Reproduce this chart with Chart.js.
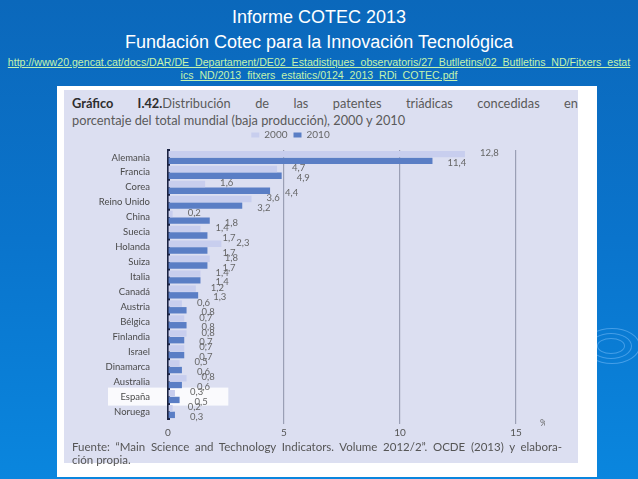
<!DOCTYPE html>
<html>
<head>
<meta charset="utf-8">
<script src="https://cdn.jsdelivr.net/npm/chart.js@4.4.1/dist/chart.umd.min.js"></script>
<style>
  html, body { margin: 0; padding: 0; }
  body {
    width: 638px; height: 479px; overflow: hidden; position: relative;
    background: linear-gradient(180deg, #0b68bb 0%, #0a74cc 50%, #0a86de 100%);
    font-family: "Liberation Sans", Arial, sans-serif;
  }
  .titulo { position: absolute; left: 0; width: 638px; text-align: center; color: #fff; font-size: 18px; }
  .enlace {
    position: absolute; left: 0; width: 638px; text-align: center;
    color: #c4f3ae; font-size: 10.6px; text-decoration: underline; line-height: 13px; white-space: nowrap;
  }
  .marco { position: absolute; left: 57px; top: 86px; width: 540px; height: 391px; background: #fff; }
  .panel { position: absolute; left: 64px; top: 90px; width: 514px; height: 373px; background: #dcdff1; }
  .cabecera {
    position: absolute; left: 72px; width: 506px; font-family: Lato, "Open Sans", sans-serif;
    font-size: 12.8px; color: #5a5a5a; white-space: nowrap;
  }
  .cabecera b { color: #2e2e2e; }
  .fuente {
    position: absolute; left: 72px; width: 490px; font-family: Lato, "Open Sans", sans-serif;
    font-size: 11.5px; color: #555; line-height: 13px; white-space: nowrap;
  }
  .onda { position: absolute; border: 1px solid rgba(140, 200, 255, 0.45); border-radius: 50%; }
  canvas { position: absolute; left: 65px; top: 124px; }
</style>
</head>
<body>
<div class="titulo" style="top:7px;">Informe COTEC 2013</div>
<div class="titulo" style="top:32px;">Fundación Cotec para la Innovación Tecnológica</div>
<div class="enlace" style="top:56px;">http://www20.gencat.cat/docs/DAR/DE_Departament/DE02_Estadistiques_observatoris/27_Butlletins/02_Butlletins_ND/Fitxers_estat<br>ics_ND/2013_fitxers_estatics/0124_2013_RDi_COTEC.pdf</div>

<div class="onda" style="left:597px;top:338px;width:26px;height:14px;"></div>
<div class="onda" style="left:590px;top:333px;width:40px;height:24px;"></div>
<div class="onda" style="left:584px;top:328px;width:54px;height:34px;"></div>

<div class="marco"></div>
<div class="panel"></div>

<div class="cabecera" style="top:95px;text-align:justify;text-align-last:justify;"><b>Gráfico I.42.</b>Distribución de las patentes triádicas concedidas en</div>
<div class="cabecera" style="top:112px;">porcentaje del total mundial (baja producción), 2000 y 2010</div>

<canvas id="grafico" width="480" height="318"></canvas>

<div class="fuente" style="top:440px;text-align:justify;text-align-last:justify;">Fuente: “Main Science and Technology Indicators. Volume 2012/2”. OCDE (2013) y elabora-</div>
<div class="fuente" style="top:453px;">ción propia.</div>

<script>
// Países y valores (% del total mundial)
const paises = ['Alemania', 'Francia', 'Corea', 'Reino Unido', 'China', 'Suecia', 'Holanda', 'Suiza', 'Italia',
  'Canadá', 'Austria', 'Bélgica', 'Finlandia', 'Israel', 'Dinamarca', 'Australia', 'España', 'Noruega'];
const valores2000 = [12.8, 4.7, 1.6, 3.6, 0.2, 1.4, 2.3, 1.8, 1.4, 1.2, 0.6, 0.7, 0.8, 0.7, 0.5, 0.8, 0.3, 0.2];
const valores2010 = [11.4, 4.9, 4.4, 3.2, 1.8, 1.7, 1.7, 1.7, 1.4, 1.3, 0.8, 0.8, 0.7, 0.7, 0.6, 0.6, 0.5, 0.3];
const ticksX = [0, 5, 10, 15];

const fuente = 'Lato, "Open Sans", sans-serif';

// Recuadro blanco alrededor de España (antes de los ejes)
const resaltarEspana = {
  id: 'resaltarEspana',
  beforeDraw(chart) {
    const ctx = chart.ctx;
    const y = chart.scales.y;
    const x = chart.scales.x;
    const yc = y.getPixelForValue(paises.indexOf('España'));
    ctx.save();
    ctx.fillStyle = 'rgba(255,255,255,0.85)';
    ctx.fillRect(43, yc - 9, x.getPixelForValue(2.6) - 43, 18);
    ctx.restore();
  }
};

// Etiquetas de valor junto a cada barra
const etiquetas = {
  id: 'etiquetas',
  afterDatasetsDraw(chart) {
    const ctx = chart.ctx;
    ctx.save();
    ctx.font = '9.5px ' + fuente;
    ctx.fillStyle = '#666';
    ctx.textBaseline = 'middle';
    chart.data.datasets.forEach((ds, d) => {
      chart.getDatasetMeta(d).data.forEach((bar, i) => {
        const txt = ds.data[i].toFixed(1).replace('.', ',');
        ctx.fillText(txt, bar.x + 15, bar.y + (d === 0 ? -1 : 2));
      });
    });
    // símbolo de porcentaje
    const a = chart.chartArea;
    ctx.fillText('%', a.right + 24, a.bottom + 4);
    ctx.restore();
  }
};

new Chart(document.getElementById('grafico'), {
  type: 'bar',
  data: {
    labels: paises,
    datasets: [
      { label: '2000', data: valores2000, backgroundColor: '#c8ceee', categoryPercentage: 0.9, barPercentage: 0.95 },
      { label: '2010', data: valores2010, backgroundColor: '#5a7ec5', categoryPercentage: 0.9, barPercentage: 0.95 }
    ]
  },
  options: {
    indexAxis: 'y',
    responsive: false,
    animation: false,
    layout: { padding: { left: 0, right: 29, top: 0, bottom: 0 } },
    plugins: {
      legend: {
        position: 'top',
        labels: { boxWidth: 8, boxHeight: 5, color: '#666', font: { family: fuente, size: 10 }, padding: 6 }
      },
      tooltip: { enabled: false }
    },
    scales: {
      x: {
        min: 0,
        max: 15,
        afterBuildTicks: (s) => { s.ticks = ticksX.map(v => ({ value: v })); },
        ticks: { color: '#555', font: { family: fuente, size: 10 }, padding: 3 },
        grid: {
          color: (c) => c.tick && c.tick.value === 0 ? 'rgba(0,0,0,0)' : '#9a9fb5',
          lineWidth: 1.2,
          tickLength: 5
        },
        border: { display: false }
      },
      y: {
        afterFit: (s) => { s.width = 103; },
        ticks: { color: '#4a4a4a', font: { family: fuente, size: 9.5 }, padding: 10 },
        grid: { display: false },
        border: { color: '#1b2342', width: 3 }
      }
    }
  },
  plugins: [resaltarEspana, etiquetas]
});
</script>
</body>
</html>
